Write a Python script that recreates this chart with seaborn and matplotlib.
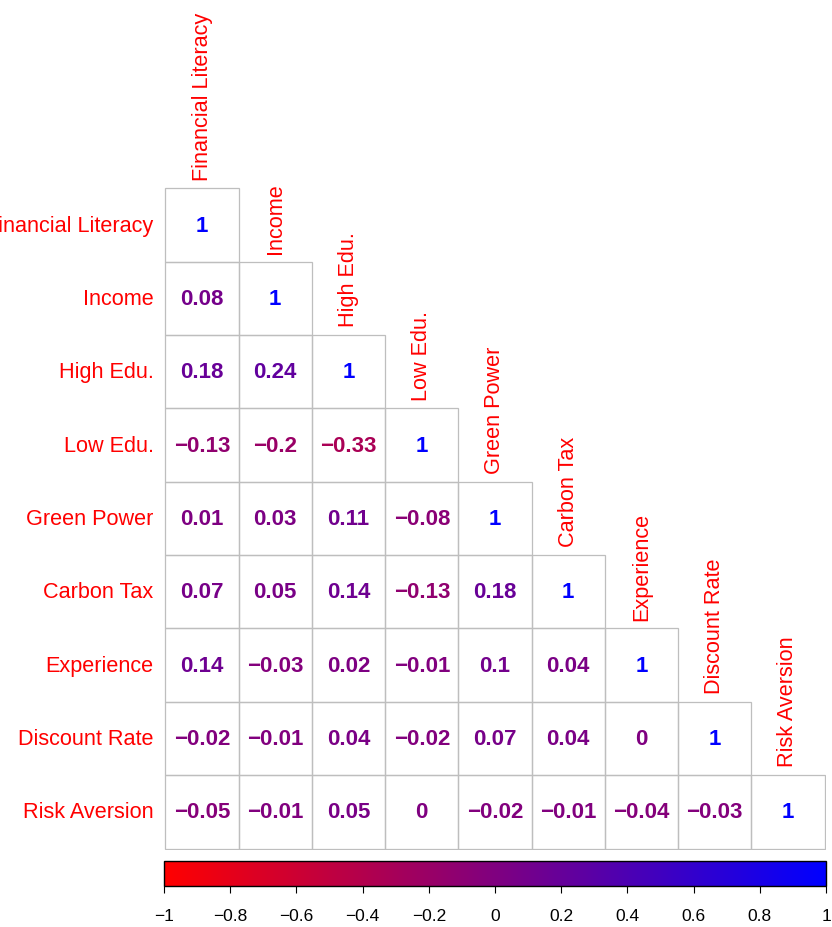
import matplotlib
matplotlib.use("Agg")
import matplotlib.pyplot as plt
import seaborn as sns
import numpy as np
from matplotlib.colors import LinearSegmentedColormap, ListedColormap, Normalize
from matplotlib.cm import ScalarMappable
from matplotlib.patches import Rectangle

labels = ["Financial Literacy", "Income", "High Edu.", "Low Edu.", "Green Power",
          "Carbon Tax", "Experience", "Discount Rate", "Risk Aversion"]

# lower triangle, row by row (diagonal excluded)
row_income = [0.08]
row_high_edu = [0.18, 0.24]
row_low_edu = [-0.13, -0.2, -0.33]
row_green_power = [0.01, 0.03, 0.11, -0.08]
row_carbon_tax = [0.07, 0.05, 0.14, -0.13, 0.18]
row_experience = [0.14, -0.03, 0.02, -0.01, 0.1, 0.04]
row_discount = [-0.02, -0.01, 0.04, -0.02, 0.07, 0.04, 0]
row_risk = [-0.05, -0.01, 0.05, 0, -0.02, -0.01, -0.04, -0.03]

cbar_ticks = [-1, -0.8, -0.6, -0.4, -0.2, 0, 0.2, 0.4, 0.6, 0.8, 1]

lower_rows = [[], row_income, row_high_edu, row_low_edu, row_green_power,
              row_carbon_tax, row_experience, row_discount, row_risk]

n = len(labels)
corr = np.eye(n)
for i, vals in enumerate(lower_rows):
    for j, v in enumerate(vals):
        corr[i, j] = v
        corr[j, i] = v

mask = np.triu(np.ones_like(corr, dtype=bool), k=1)

text_cmap = LinearSegmentedColormap.from_list("rb", ["#FF0000", "#0000FF"])
norm = Normalize(-1, 1)


def fmt(v):
    s = f"{round(v, 2):g}"
    if s in ("-0", "0.0"):
        s = "0"
    return s.replace("-", "\u2212")


sns.set_style("white")
plt.rcParams["font.family"] = ["Liberation Sans", "DejaVu Sans"]

fig = plt.figure(figsize=(8.32, 9.28), dpi=100)
ax = fig.add_axes([0.1971, 0.0830, 0.7957, 0.7144])

sns.heatmap(corr, mask=mask, cmap=ListedColormap(["white"]), cbar=False,
            linewidths=0, xticklabels=False, yticklabels=False, ax=ax)
ax.set_xlim(-0.02, n + 0.02)
ax.set_ylim(n + 0.02, -0.02)
for s in ax.spines.values():
    s.set_visible(False)

# cell borders and values (lower triangle only)
for i in range(n):
    for j in range(i + 1):
        ax.add_patch(Rectangle((j, i), 1, 1, fill=False, edgecolor="#BEBEBE",
                               linewidth=0.9))
        v = corr[i, j]
        ax.text(j + 0.5, i + 0.5, fmt(v), ha="center", va="center",
                fontsize=16, fontweight="bold", color=text_cmap(norm(v)))

# row labels (the long first one runs off the left edge, as in the original)
for i, lab in enumerate(labels):
    ax.text(-0.16, i + 0.5, lab, ha="right", va="center", fontsize=15.6,
            color="#FF0000", clip_on=False)

# column labels above the diagonal cell
for j, lab in enumerate(labels):
    ax.text(j + 0.5, j - 0.12, lab, ha="center", va="bottom", rotation=90,
            fontsize=15.6, color="#FF0000", clip_on=False)

# colour bar
cax = fig.add_axes([0.1971, 0.0442, 0.7957, 0.0269])
sm = ScalarMappable(norm=norm, cmap=text_cmap)
cb = fig.colorbar(sm, cax=cax, orientation="horizontal")
cb.set_ticks(cbar_ticks)
cb.set_ticklabels([fmt(t) for t in cbar_ticks])
cb.outline.set_linewidth(1)
cb.outline.set_edgecolor("black")
cax.tick_params(axis="x", direction="out", length=5, width=0.8,
                labelsize=12.5, pad=11, colors="black")

fig.savefig("out.png", dpi=100)
